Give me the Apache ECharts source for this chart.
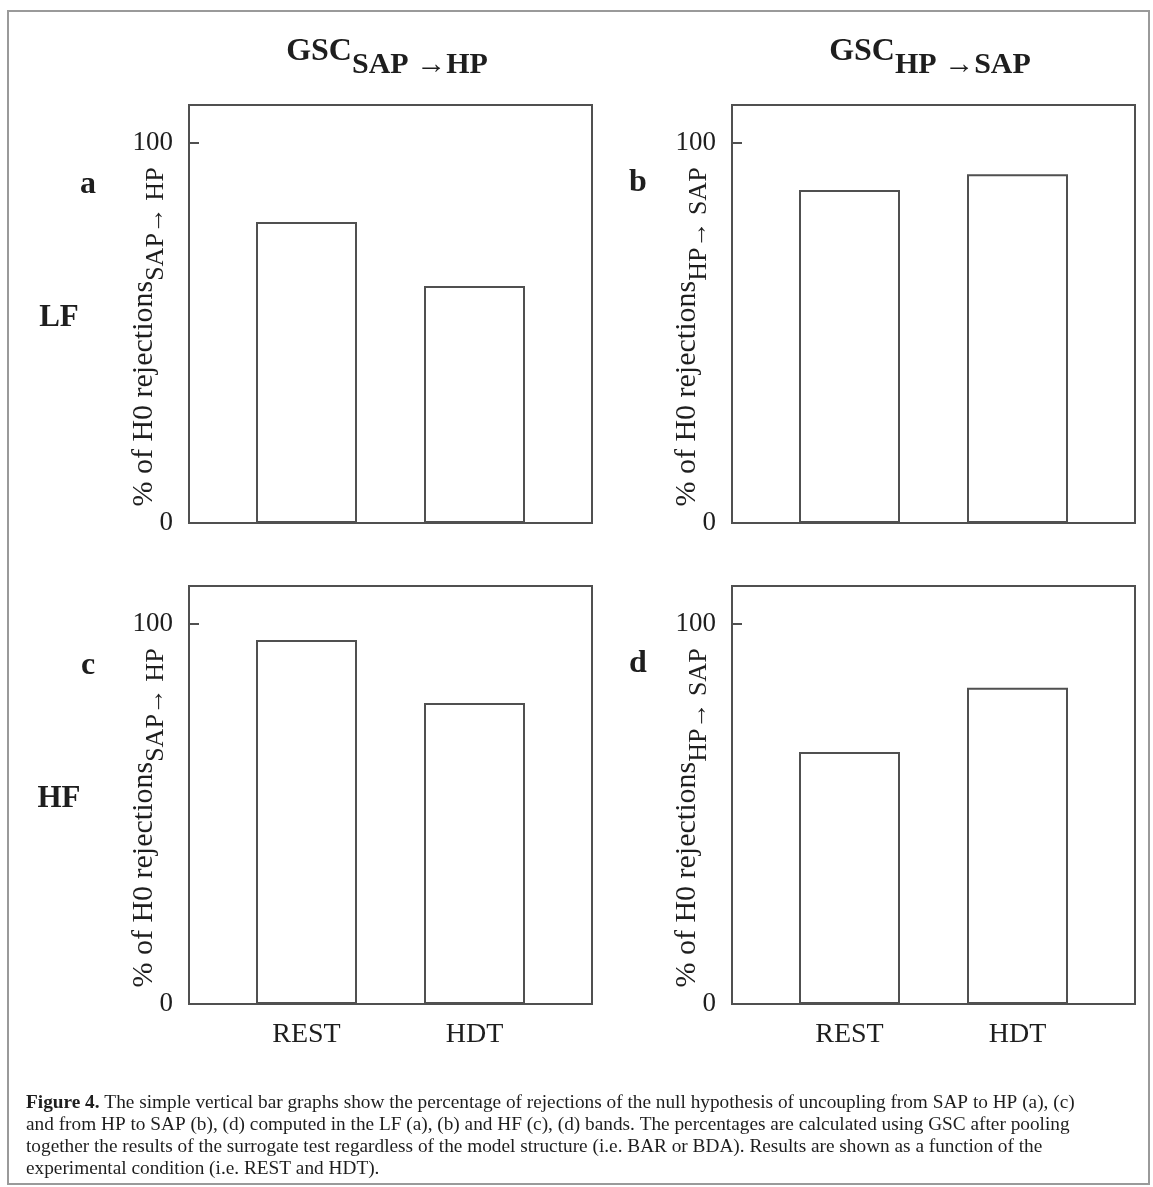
<!DOCTYPE html>
<html>
<head>
<meta charset="utf-8">
<script src="https://cdn.jsdelivr.net/npm/echarts@6/dist/echarts.min.js"></script>
<style>
html, body { margin: 0; padding: 0; background: #fff; }
#main { width: 1153px; height: 1187px; }
</style>
</head>
<body>
<div id="main"></div>
<script>
// data (% of H0 rejections)
var categories = ['REST', 'HDT'];
var lfSapToHp = [79.2, 62.4];   // a
var lfHpToSap = [87.6, 91.8];   // b
var hfSapToHp = [95.8, 79.2];   // c
var hfHpToSap = [66.3, 83.2];   // d
var yTicks = [0, 100];
var yMax = 110;

var FONT = 'Liberation Serif';
var INK = '#1e1e1e';
var LINE = '#505050';

var panels = [
	{data: lfSapToHp, left: 189, top: 105, dir: 'SAP→ HP', letter: 'a', lx: 88, ly: 185, xLabels: false},
	{data: lfHpToSap, left: 732, top: 105, dir: 'HP→ SAP', letter: 'b', lx: 638, ly: 183, xLabels: false},
	{data: hfSapToHp, left: 189, top: 586, dir: 'SAP→ HP', letter: 'c', lx: 88, ly: 666, xLabels: true},
	{data: hfHpToSap, left: 732, top: 586, dir: 'HP→ SAP', letter: 'd', lx: 638, ly: 664, xLabels: true}
];
var W = 403, H = 418;

var grid = [], xAxis = [], yAxis = [], series = [], graphic = [];

panels.forEach(function (p, i) {
	var outer = 2 * i, inner = 2 * i + 1;
	// frame + y axis
	grid.push({left: p.left, top: p.top, width: W, height: H, show: true, borderColor: LINE, borderWidth: 2});
	// bars (narrower so the two categories sit where they are in the figure)
	grid.push({left: p.left + 33.5, top: p.top, width: 336, height: H});

	xAxis.push({gridIndex: outer, type: 'value', min: 0, max: 1, show: false});
	yAxis.push({
		gridIndex: outer,
		type: 'value',
		min: 0,
		max: yMax,
		interval: 100,
		axisLine: {show: true, lineStyle: {color: LINE, width: 2}},
		axisTick: {show: true, inside: true, length: 10, lineStyle: {color: LINE, width: 2}},
		axisLabel: {
			margin: 16, fontFamily: FONT, fontSize: 27, color: INK,
			formatter: function (v) { return yTicks.indexOf(v) >= 0 ? String(v) : ''; }
		},
		splitLine: {show: false},
		name: '{m|% of H0 rejections}{s|' + p.dir + '}',
		nameLocation: 'middle',
		nameGap: 20,
		nameMoveOverlap: false,
		nameTextStyle: {
			padding: [0, 46, 0, 0],
			rich: {
				m: {fontFamily: FONT, fontSize: 30, color: INK, lineHeight: 30, verticalAlign: 'top'},
				s: {fontFamily: FONT, fontSize: 26, color: INK, lineHeight: 40, padding: [14, 0, 0, 0], verticalAlign: 'top'}
			}
		}
	});

	xAxis.push({
		gridIndex: inner,
		type: 'category',
		data: categories,
		axisLine: {show: false},
		axisTick: {show: false},
		axisLabel: {show: p.xLabels, margin: 17, fontFamily: FONT, fontSize: 28, color: INK}
	});
	yAxis.push({gridIndex: inner, type: 'value', min: 0, max: yMax, show: false});

	series.push({
		type: 'bar',
		xAxisIndex: inner,
		yAxisIndex: inner,
		data: p.data,
		barWidth: 101,
		silent: true,
		itemStyle: {color: '#fff', borderColor: LINE, borderWidth: 2}
	});

	graphic.push({
		type: 'text',
		x: p.lx,
		y: p.ly,
		silent: true,
		style: {text: p.letter, fontFamily: FONT, fontSize: 32, fontWeight: 'bold', fill: INK, align: 'center', verticalAlign: 'middle'}
	});
});

// row labels
['LF', 'HF'].forEach(function (t, r) {
	graphic.push({
		type: 'text', x: 59, y: 318 + r * 481, silent: true,
		style: {text: t, fontFamily: FONT, fontSize: 31, fontWeight: 'bold', fill: INK, align: 'center', verticalAlign: 'middle'}
	});
});

// outer page frame
graphic.push({
	type: 'rect', silent: true,
	shape: {x: 8, y: 11, width: 1141, height: 1173},
	style: {fill: 'none', stroke: '#9a9a9a', lineWidth: 2}
});

// caption
var capLines = [
	'{b|Figure 4.}{n| The simple vertical bar graphs show the percentage of rejections of the null hypothesis of uncoupling from SAP to HP (a), (c)}',
	'{n|and from HP to SAP (b), (d) computed in the LF (a), (b) and HF (c), (d) bands. The percentages are calculated using GSC after pooling}',
	'{n|together the results of the surrogate test regardless of the model structure (i.e. BAR or BDA). Results are shown as a function of the}',
	'{n|experimental condition (i.e. REST and HDT).}'
];
graphic.push({
	type: 'text', x: 26, y: 1092, silent: true,
	style: {
		text: capLines.join('\n'),
		fill: INK,
		fontFamily: FONT,
		fontSize: 19.3,
		lineHeight: 22,
		rich: {
			b: {fontFamily: FONT, fontSize: 19.3, fontWeight: 'bold', lineHeight: 22, fill: INK},
			n: {fontFamily: FONT, fontSize: 19.3, lineHeight: 22, fill: INK}
		}
	}
});

var titleRich = {
	m: {fontFamily: FONT, fontSize: 32, fontWeight: 'bold', color: INK, lineHeight: 32, verticalAlign: 'top'},
	s: {fontFamily: FONT, fontSize: 30, fontWeight: 'bold', color: INK, lineHeight: 46, padding: [14, 0, 0, 0], verticalAlign: 'top'}
};

var chart = echarts.init(document.getElementById('main'));
chart.setOption({
	animation: false,
	backgroundColor: '#fff',
	title: [
		{text: '{m|GSC}{s|SAP →HP}', left: 382, top: 31, textAlign: 'center', textStyle: {rich: titleRich}},
		{text: '{m|GSC}{s|HP →SAP}', left: 925, top: 31, textAlign: 'center', textStyle: {rich: titleRich}}
	],
	grid: grid,
	xAxis: xAxis,
	yAxis: yAxis,
	series: series,
	graphic: graphic
});
</script>
</body>
</html>
